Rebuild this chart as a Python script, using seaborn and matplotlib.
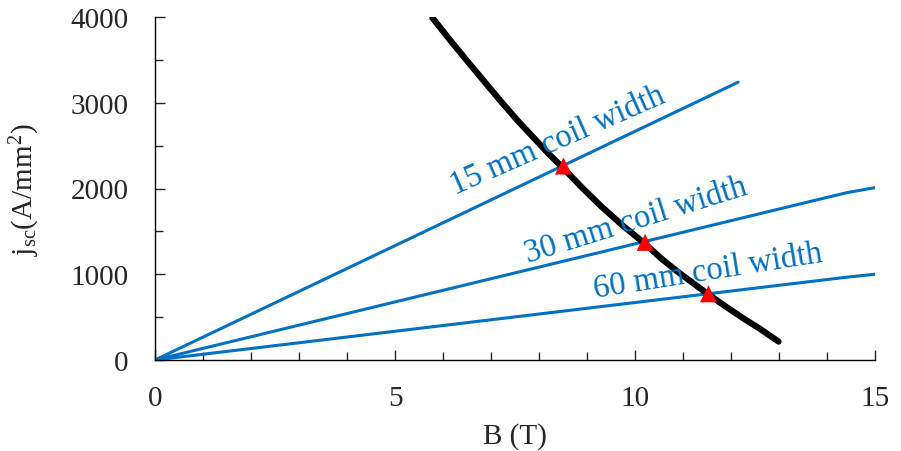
import numpy as np
import pandas as pd
import matplotlib
matplotlib.use("Agg")
import matplotlib.pyplot as plt
import seaborn as sns
from matplotlib.ticker import MultipleLocator

OUTPUT_PATH = "out.png"

# coil load lines (B in T, j in A/mm2)
b_15mm = [0, 12.15]
j_15mm = [0, 3240]
b_30mm = [0, 14.4, 15]
j_30mm = [0, 1950, 2010]
b_60mm = [0, 14.4, 15]
j_60mm = [0, 965, 1000]

# critical current curve
b_crit = [5.78, 6.14, 6.5, 6.85, 7.2, 7.55, 7.9, 8.2, 8.51, 8.9, 9.3,
          9.75, 10.21, 10.55, 10.9, 11.2, 11.53, 11.9, 12.25, 12.6, 12.99]
j_crit = [3990, 3735, 3490, 3255, 3020, 2795, 2585, 2405, 2235, 2008, 1790,
          1565, 1355, 1182, 1025, 900, 765, 620, 488, 365, 215]

# operating points
b_op = [8.51, 10.21, 11.53]
j_op = [2262, 1372, 772]

labels = ["15 mm coil width", "30 mm coil width", "60 mm coil width"]
label_x = [6.25, 7.77, 9.17]
label_y = [1936, 1143, 735]
label_rot = [23.7, 17.3, 9.0]

BLUE = "#0070C0"


def main():
    sns.set_style("ticks")
    plt.rcParams["font.family"] = ["Liberation Serif", "DejaVu Serif"]
    plt.rcParams["mathtext.fontset"] = "custom"
    plt.rcParams["mathtext.rm"] = "Liberation Serif"
    plt.rcParams["mathtext.it"] = "Liberation Serif:italic"

    fig = plt.figure(figsize=(9.01, 4.52), dpi=100)
    ax = fig.add_axes([155 / 901, 1 - 361 / 452, 720 / 901, 343 / 452])

    for b, j in [(b_15mm, j_15mm), (b_30mm, j_30mm), (b_60mm, j_60mm)]:
        sns.lineplot(x=b, y=j, ax=ax, color=BLUE, linewidth=2.2, sort=False)

    sns.lineplot(x=b_crit, y=j_crit, ax=ax, color="black", linewidth=4.5,
                 sort=False, solid_capstyle="round", solid_joinstyle="round")
    sns.scatterplot(x=b_op, y=j_op, ax=ax, marker="^", color="red", s=150,
                    edgecolor="none", zorder=5)

    for txt, x, y, r in zip(labels, label_x, label_y, label_rot):
        ax.text(x, y, txt, color=BLUE, fontsize=23.5, rotation=r,
                rotation_mode="anchor", ha="left", va="baseline")

    ax.set_xlim(0, 15)
    ax.set_ylim(0, 4000)
    ax.xaxis.set_major_locator(MultipleLocator(5))
    ax.xaxis.set_minor_locator(MultipleLocator(1))
    ax.yaxis.set_major_locator(MultipleLocator(1000))
    ax.yaxis.set_minor_locator(MultipleLocator(500))
    ax.tick_params(which="major", direction="in", length=7, width=1,
                   labelsize=21, pad=18)
    ax.tick_params(which="minor", direction="in", length=5.5, width=1)
    ax.tick_params(axis="y", which="major", pad=19)

    sns.despine(ax=ax)
    for side in ["left", "bottom"]:
        ax.spines[side].set_color("black")
        ax.spines[side].set_linewidth(1)

    ax.set_xlabel("B (T)", fontsize=21)
    ax.set_ylabel(r"j$_{\mathrm{sc}}$(A/mm$^{2}$)", fontsize=21)
    ax.xaxis.set_label_coords(0.5, -0.18)
    ax.yaxis.set_label_coords(-0.157, 0.5)

    fig.savefig(OUTPUT_PATH, dpi=100)
    plt.close(fig)


if __name__ == "__main__":
    main()
